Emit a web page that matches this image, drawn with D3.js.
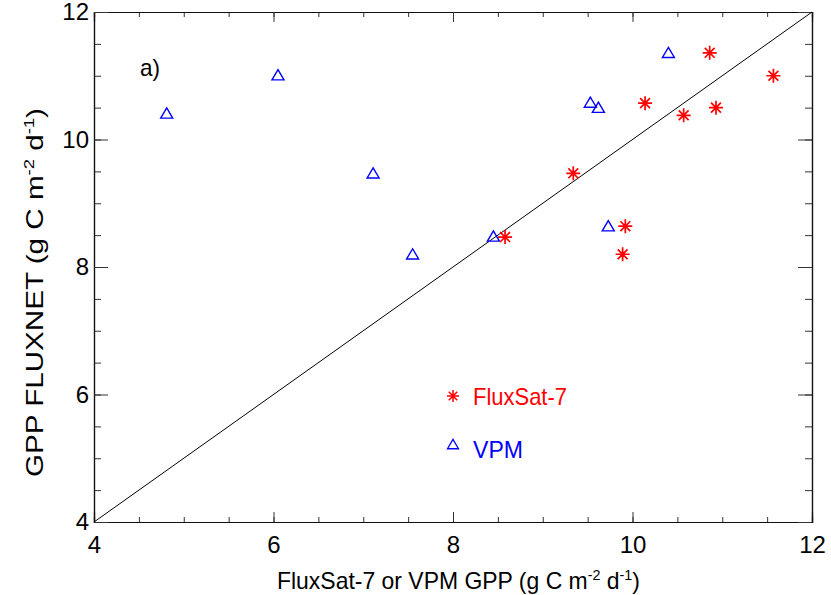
<!DOCTYPE html>
<html>
<head>
<meta charset="utf-8">
<script src="https://cdn.jsdelivr.net/npm/d3@7"></script>
<style>
  body { margin: 0; background: #fff; }
  svg text { font-family: "Liberation Sans", Arial, sans-serif; }
  .axis path, .axis line { stroke: #333; }
  .axis .domain { stroke: #111; }
</style>
</head>
<body>
<div id="chart"></div>
<script>
// FluxSat-7 vs FLUXNET GPP
var fluxsatX = [8.58, 9.34, 10.14, 10.86, 11.57, 10.57, 10.93, 9.92, 9.89];
var fluxsatY = [8.47, 9.47, 10.57, 11.36, 11.00, 10.38, 10.50, 8.64, 8.20];

// VPM vs FLUXNET GPP
var vpmX = [4.81, 6.05, 7.11, 7.55, 8.45, 9.53, 9.62, 9.73, 10.40];
var vpmY = [10.40, 11.00, 9.46, 8.19, 8.47, 10.57, 10.49, 8.63, 11.35];

var majorTicks = [4, 6, 8, 10, 12];
var minorTicks = d3.range(4, 12.01, 0.5);
var oneToOne = [4, 12];

var margin = { top: 12, right: 19, bottom: 73, left: 94 };
var width = 831 - margin.left - margin.right;
var height = 595 - margin.top - margin.bottom;

var svg = d3.select("#chart").append("svg")
  .attr("width", 831)
  .attr("height", 595)
  .append("g")
    .attr("transform", "translate(" + margin.left + "," + margin.top + ")");

var x = d3.scaleLinear().domain([4, 12]).range([0, width]);
var y = d3.scaleLinear().domain([4, 12]).range([height, 0]);

// axes, ticks pointing inward on every side
function addAxis(axis, cls, tx, ty) {
  return svg.append("g")
    .attr("class", "axis " + cls)
    .attr("transform", "translate(" + tx + "," + ty + ")")
    .call(axis);
}

// minor ticks first
addAxis(d3.axisBottom(x).tickValues(minorTicks).tickSize(-5).tickFormat(""), "minor", 0, height);
addAxis(d3.axisTop(x).tickValues(minorTicks).tickSize(-5).tickFormat(""), "minor", 0, 0);
addAxis(d3.axisLeft(y).tickValues(minorTicks).tickSize(-7).tickFormat(""), "minor", 0, 0);
addAxis(d3.axisRight(y).tickValues(minorTicks).tickSize(-7).tickFormat(""), "minor", width, 0);

// major ticks
addAxis(d3.axisBottom(x).tickValues(majorTicks).tickSize(-10).tickPadding(14).tickFormat(d3.format("d")), "x-axis", 0, height);
addAxis(d3.axisTop(x).tickValues(majorTicks).tickSize(-10).tickFormat(""), "x-top", 0, 0);
addAxis(d3.axisLeft(y).tickValues(majorTicks).tickSize(-14).tickPadding(5).tickFormat(d3.format("d")), "y-axis", 0, 0);
addAxis(d3.axisRight(y).tickValues(majorTicks).tickSize(-14).tickFormat(""), "y-right", width, 0);

svg.selectAll(".axis text")
  .attr("font-size", 24)
  .attr("fill", "#000")
  .style("font-family", "Liberation Sans, Arial, sans-serif");

svg.selectAll(".axis .domain").attr("stroke-width", 1.2);

// 1:1 line
svg.append("line")
  .attr("x1", x(oneToOne[0])).attr("y1", y(oneToOne[0]))
  .attr("x2", x(oneToOne[1])).attr("y2", y(oneToOne[1]))
  .attr("stroke", "#000")
  .attr("stroke-width", 1);

// marker shapes
function starPath(r) {
  var d = r * Math.SQRT1_2;
  return "M0," + (-r) + "V" + r +
         "M" + (-r) + ",0H" + r +
         "M" + (-d) + "," + (-d) + "L" + d + "," + d +
         "M" + (-d) + "," + d + "L" + d + "," + (-d);
}
function triPath(s) {
  var h = s * 0.85;
  return "M0," + (-h * 0.6) + "L" + (s / 2) + "," + (h * 0.4) + "L" + (-s / 2) + "," + (h * 0.4) + "Z";
}

var fluxsatData = fluxsatX.map(function(d, i) { return { x: d, y: fluxsatY[i] }; });
var vpmData = vpmX.map(function(d, i) { return { x: d, y: vpmY[i] }; });

svg.selectAll(".tri")
  .data(vpmData)
  .enter().append("path")
    .attr("class", "tri")
    .attr("transform", function(d) { return "translate(" + x(d.x) + "," + y(d.y) + ")"; })
    .attr("d", triPath(12))
    .attr("fill", "none")
    .attr("stroke", "#0000ff")
    .attr("stroke-width", 1.4);

svg.selectAll(".star")
  .data(fluxsatData)
  .enter().append("path")
    .attr("class", "star")
    .attr("transform", function(d) { return "translate(" + x(d.x) + "," + y(d.y) + ")"; })
    .attr("d", starPath(7))
    .attr("fill", "none")
    .attr("stroke", "#ff0000")
    .attr("stroke-width", 1.7);

// panel label
svg.append("text")
  .attr("x", 46).attr("y", 64)
  .attr("font-size", 24)
  .attr("fill", "#000")
  .attr("textLength", 20).attr("lengthAdjust", "spacingAndGlyphs")
  .text("a)");

// legend
var legend = svg.append("g");
legend.append("path")
  .attr("transform", "translate(" + 359 + "," + 384 + ")")
  .attr("d", starPath(6))
  .attr("fill", "none").attr("stroke", "#ff0000").attr("stroke-width", 1.5);
legend.append("text")
  .attr("x", 379).attr("y", 393)
  .attr("font-size", 24).attr("fill", "#ff0000")
  .attr("textLength", 94).attr("lengthAdjust", "spacingAndGlyphs")
  .text("FluxSat-7");
legend.append("path")
  .attr("transform", "translate(" + 359 + "," + 433 + ")")
  .attr("d", triPath(11))
  .attr("fill", "none").attr("stroke", "#0000ff").attr("stroke-width", 1.3);
legend.append("text")
  .attr("x", 379).attr("y", 446)
  .attr("font-size", 24).attr("fill", "#0000ff")
  .attr("textLength", 50).attr("lengthAdjust", "spacingAndGlyphs")
  .text("VPM");

// axis titles with superscripts
function unitTitle(sel, label) {
  sel.append("tspan").text(label + " (g C m");
  sel.append("tspan").attr("dy", -9).attr("font-size", 15).text("-2");
  sel.append("tspan").attr("dy", 9).text(" d");
  sel.append("tspan").attr("dy", -9).attr("font-size", 15).text("-1");
  sel.append("tspan").attr("dy", 9).text(")");
}

var xTitle = svg.append("text")
  .attr("x", 183).attr("y", height + 67)
  .attr("font-size", 24).attr("fill", "#000")
  .attr("textLength", 363).attr("lengthAdjust", "spacingAndGlyphs");
unitTitle(xTitle, "FluxSat-7 or VPM GPP");

var yTitle = svg.append("text")
  .attr("transform", "translate(" + (-51) + "," + 465 + ") rotate(-90)")
  .attr("font-size", 24).attr("fill", "#000")
  .attr("textLength", 369).attr("lengthAdjust", "spacingAndGlyphs");
unitTitle(yTitle, "GPP FLUXNET");
</script>
</body>
</html>
